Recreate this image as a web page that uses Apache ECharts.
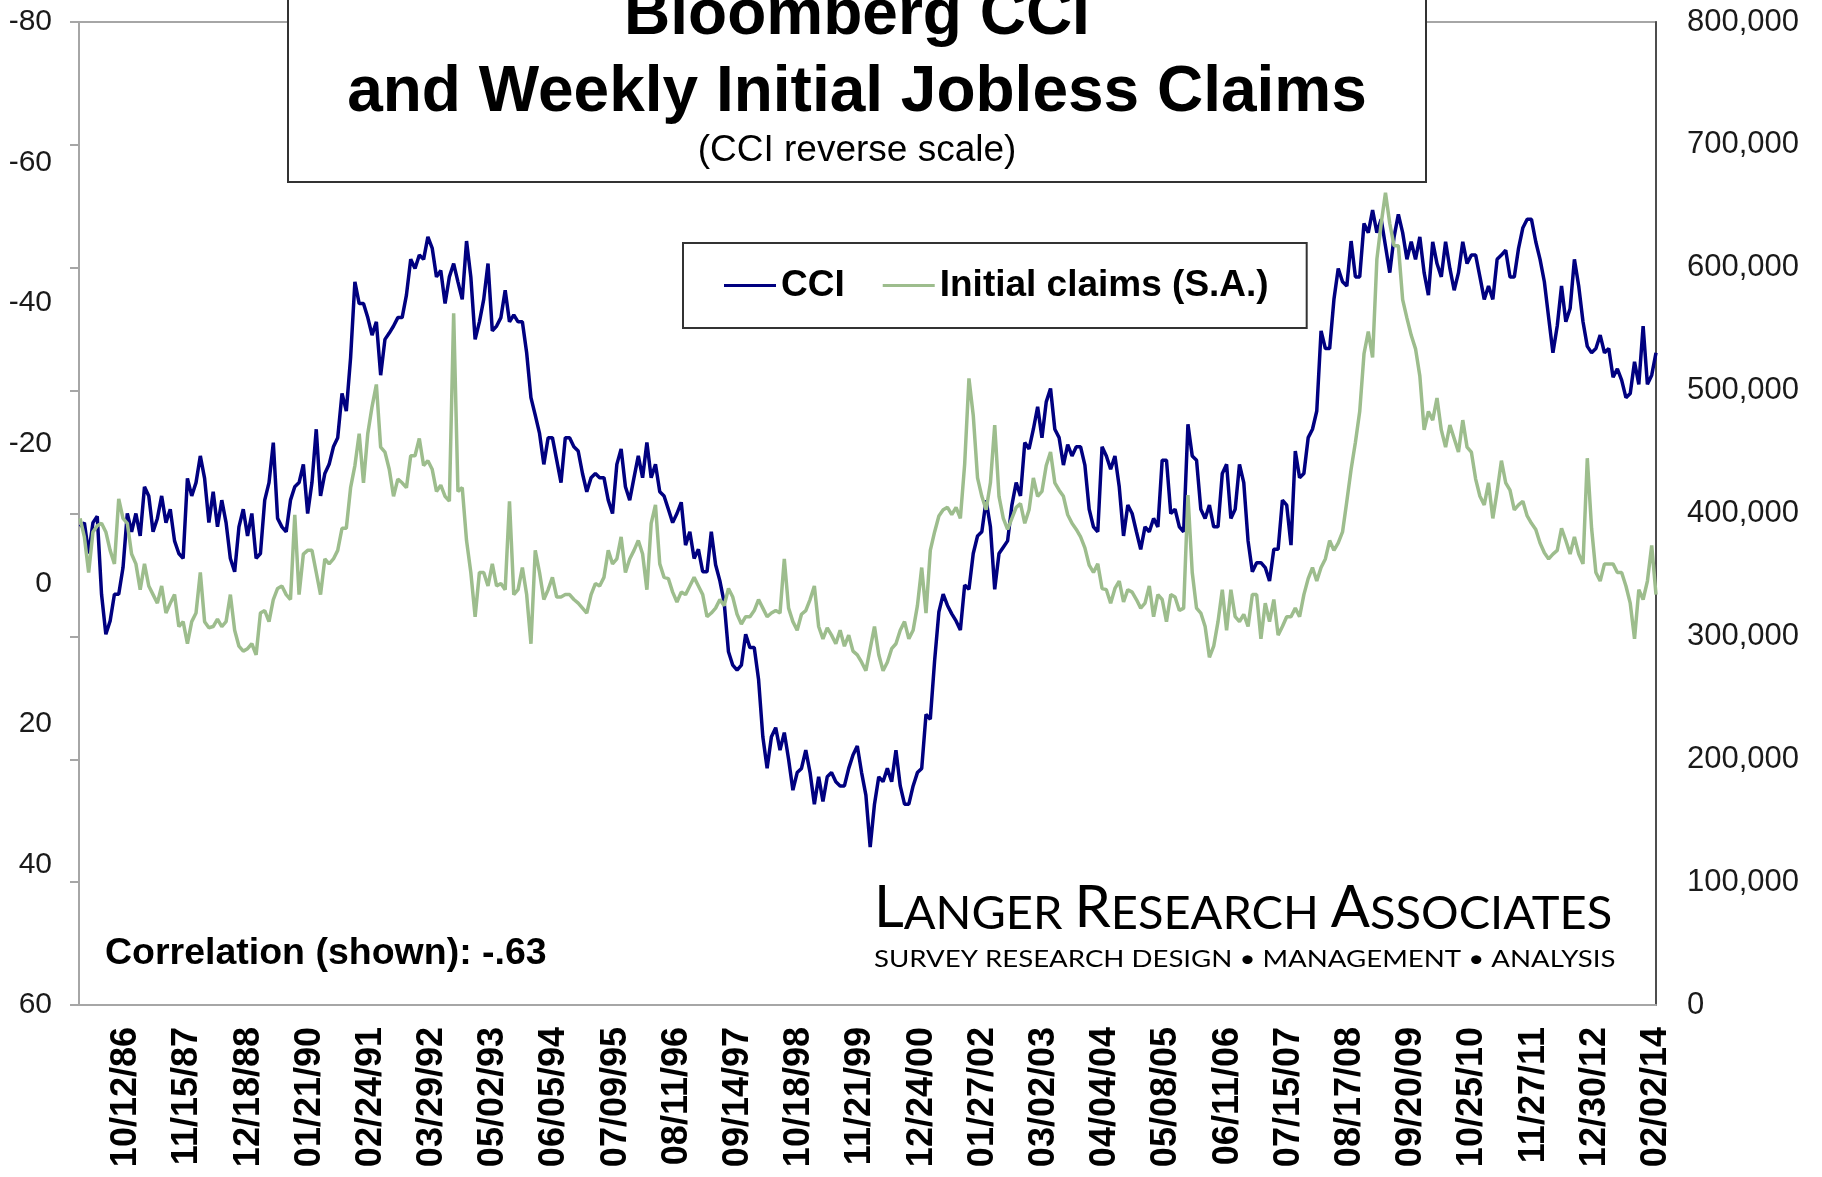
<!DOCTYPE html>
<html>
<head>
<meta charset="utf-8">
<script src="https://cdn.jsdelivr.net/npm/echarts@6/dist/echarts.min.js"></script>
<style>
html,body{margin:0;padding:0;background:#fff;}
#chart{width:1822px;height:1177px;}
</style>
</head>
<body>
<div id="chart"></div>
<script>
// X-axis tick labels (one every 57 weeks, first at week 44 after 12/08/85)
const tickLabels = ['10/12/86','11/15/87','12/18/88','01/21/90','02/24/91','03/29/92','05/02/93','06/05/94','07/09/95','08/11/96','09/14/97','10/18/98','11/21/99','12/24/00','01/27/02','03/02/03','04/04/04','05/08/05','06/11/06','07/15/07','08/17/08','09/20/09','10/25/10','11/27/11','12/30/12','02/02/14'];
const firstLabelWeek = 44;
const labelStepWeeks = 57;
const lastWeek = 1469;
// Readings are taken every 4 weeks, starting at week 1 (12/15/85)
const firstSampleWeek = 1;
const sampleStepWeeks = 4;

// Bloomberg CCI readings (reverse scale)
const cci1985_1990 = [-8.1,-8.7,-4.3,-8.7,-9.6,1.5,7.2,5.3,1.5,1.5,
-2.3,-10,-7.4,-10,-6.8,-13.8,-12.5,-7.4,-9.3,-12.5,
-8.7,-10.6,-6.1,-4.3,-3.6,-15,-12.5,-14.4,-18.2,-15,
-8.7,-13.1,-8.1,-11.9,-8.7,-3.6,-1.7,-8.1,-10.6,-6.8,
-10,-3.6,-4.3,-11.9,-14.4,-20.1,-9.3,-8.1,-7.4,-11.9,
-13.8,-14.4,-17,-10,-14.4,-22,-12.5,-15.7,-17,-19.5,
-20.8,-27.1];
const cci1990_1995 = [-24.6,-32.2,-43.0,-39.9,-39.9,-37.9,-35.4,-37.3,-29.7,-34.8,
-35.7,-36.7,-37.9,-37.9,-41.1,-46.2,-44.9,-46.8,-46.2,-49.4,
-47.8,-43.7,-44.6,-39.9,-43.7,-45.6,-43.0,-40.5,-48.8,-43.7,
-34.8,-37.3,-40.5,-45.6,-36.0,-36.7,-37.9,-41.8,-37.3,-38.3,
-37.3,-37.3,-32.9,-26.5,-24.0,-21.4,-17.0,-20.8,-20.8,-17.6,
-14.4,-20.8,-20.8,-19.5,-18.9,-15.7,-13.1,-15.1,-15.7,-15.1,
-15.1,-11.9];
const cci1995_2000 = [-10.0,-17.0,-19.2,-13.8,-11.9,-15.1,-18.2,-15.1,-20.1,-15.1,
-17.0,-13.1,-12.5,-10.6,-8.7,-10.0,-11.6,-5.5,-7.4,-3.6,
-4.9,-1.7,-1.7,-7.4,-2.7,-0.4,2.7,9.7,11.6,12.3,
11.6,7.2,9.1,9.1,13.6,21.8,26.3,21.8,20.5,23.7,
21.2,25.0,29.4,26.9,26.3,23.7,26.9,31.4,27.5,31.0,
27.5,26.9,28.2,28.8,28.8,26.3,24.4,23.1,26.9,30.1,
37.5,31.4];
const cci2000_2004 = [27.5,28.2,26.3,28.2,23.7,28.8,31.4,31.4,28.8,26.9,
26.3,18.6,19.3,11.0,4.0,1.5,3.1,4.3,5.3,6.6,
0.2,0.8,-4.3,-6.8,-7.4,-11.9,-8.1,0.8,-4.3,-5.2,
-6.1,-11.2,-14.4,-12.5,-20.1,-19.2,-22.0,-25.2,-20.8,-25.9,
-27.8,-22.0,-20.8,-16.9,-19.8,-18.2,-19.5,-19.5,-16.9,-10.6,
-8.1,-7.4,-19.5,-18.2,-16.3,-18.2,-13.8,-6.8,-11.2,-10.0,
-7.4,-4.9];
const cci2004_2009 = [-8.1,-7.4,-9.3,-8.1,-17.6,-17.6,-10.0,-10.6,-8.1,-7.4,
-22.7,-18.2,-17.6,-10.6,-9.3,-11.2,-8.1,-8.1,-15.7,-17.0,
-9.3,-10.6,-17.0,-14.4,-6.1,-1.7,-3.0,-3.0,-2.3,-0.4,
-4.9,-4.9,-11.9,-11.2,-5.5,-18.9,-15.1,-15.7,-20.8,-22.0,
-24.6,-36.0,-33.5,-33.5,-40.5,-44.9,-43.0,-42.4,-48.8,-43.7,
-43.7,-51.3,-50.0,-53.2,-50.0,-51.9,-48.1,-44.3,-49.4,-52.6,
-50.0];
const cci2009_2014 = [-46.2,-48.7,-46.2,-49.4,-44.3,-41.1,-48.7,-45.6,-43.7,-48.7,
-44.9,-41.8,-44.3,-48.7,-45.6,-46.8,-46.8,-43.7,-40.5,-42.4,
-40.5,-46.2,-46.8,-47.5,-43.7,-43.7,-47.8,-50.7,-51.9,-51.9,
-48.7,-46.2,-43.0,-37.9,-32.9,-36.7,-42.4,-37.3,-39.2,-46.2,
-42.4,-37.3,-33.8,-32.9,-33.5,-35.4,-32.9,-33.5,-29.4,-30.6,
-29.0,-26.5,-27.1,-31.6,-28.4,-36.7,-28.4,-29.7,-32.9];

// Initial jobless claims, seasonally adjusted (thousands)
const claims1985_1990 = [396,381,352,385,390,392,385,370,359,412,
396,392,367,359,338,359,341,334,327,341,
319,327,334,308,312,294,312,319,352,312,
307,308,314,308,312,334,305,292,288,290,
294,285,319,321,312,330,339,341,334,330,
399,334,367,370,370,352,334,363,359,363,
370,388];
const claims1990_1995 = [388,421,439,465,425,465,487,505,454,450,
436,414,428,425,421,447,447,461,439,443,
436,418,423,414,410,563,418,421,378,352,
316,352,352,341,359,341,343,338,410,334,
338,356,334,294,370,352,330,338,348,332,
332,334,334,330,327,323,319,334,343,341,
348,370];
const claims1995_2000 = [359,363,381,352,363,370,378,367,338,392,
407,359,348,347,336,328,336,334,341,348,
341,334,316,319,323,330,325,339,332,318,
310,316,316,321,330,323,316,319,321,319,
363,323,312,305,318,321,330,341,308,298,
307,301,294,305,292,301,288,285,279,272,
290,308];
const claims2000_2004 = [285,272,279,290,294,305,312,298,305,325,
356,319,370,385,398,403,405,399,405,396,
440,510,480,429,414,403,425,472,414,396,
387,396,405,408,392,403,429,414,418,439,
450,425,419,414,399,392,387,381,372,358,
352,359,339,338,327,339,345,328,338,336,
330,323];
const claims2004_2009 = [327,341,316,334,330,312,334,332,321,323,
415,352,323,319,308,283,292,312,338,305,
338,316,312,318,308,334,334,298,327,312,
330,301,308,316,316,323,316,334,347,356,
345,356,363,378,370,376,385,410,436,458,
483,530,548,527,607,636,661,636,618,618,
574];
const claims2009_2014 = [559,545,534,512,468,483,476,494,468,454,
472,461,450,476,454,450,428,414,407,425,
396,418,443,425,419,403,407,410,398,392,
387,376,368,363,367,370,388,378,367,381,
367,359,445,388,352,345,359,359,359,352,
352,341,327,298,338,330,345,374,334];

const cciValues = [].concat(cci1985_1990, cci1990_1995, cci1995_2000, cci2000_2004, cci2004_2009, cci2009_2014);
const claimsValues = [].concat(claims1985_1990, claims1990_1995, claims1995_2000, claims2000_2004, claims2004_2009, claims2009_2014);
const toPoints = vals => vals.map((v, i) => [firstSampleWeek + i * sampleStepWeeks, v]);
const labelWeeks = tickLabels.map((_, i) => firstLabelWeek + i * labelStepWeeks);

const FONT = '"Liberation Sans", Arial, sans-serif';
const chart = echarts.init(document.getElementById('chart'), null, {renderer: 'canvas'});
chart.setOption({
  animation: false,
  backgroundColor: '#ffffff',
  grid: {left: 79, right: 166, top: 22, bottom: 172, show: true, borderColor: '#a6a6a6', borderWidth: 2, backgroundColor: 'transparent'},
  legend: {
    left: 683, top: 243,
    data: ['CCI', 'Initial claims (S.A.)'],
    icon: 'rect', itemWidth: 52, itemHeight: 3, itemGap: 38,
    padding: [24, 38, 24, 41],
    borderColor: '#333', borderWidth: 2, backgroundColor: '#fff',
    textStyle: {fontFamily: FONT, fontSize: 37, fontWeight: 'bold', color: '#000'}
  },
  xAxis: {
    type: 'value', min: 0, max: lastWeek,
    axisLine: {show: true, onZero: false, lineStyle: {color: '#a6a6a6', width: 2}},
    axisTick: {show: false},
    splitLine: {show: false},
    axisLabel: {
      customValues: labelWeeks,
      rotate: 90, margin: 22,
      fontFamily: FONT, fontSize: 36, fontWeight: 'bold', color: '#000',
      formatter: v => tickLabels[Math.round((v - firstLabelWeek) / labelStepWeeks)] || ''
    }
  },
  yAxis: [
    {
      type: 'value', inverse: true, min: -80, max: 60, interval: 20, position: 'left',
      axisLine: {show: false, onZero: false}, axisTick: {show: false}, splitLine: {show: false},
      axisLabel: {fontFamily: FONT, fontSize: 30, color: '#1a1a1a', margin: 27}
    },
    {
      type: 'value', min: 0, max: 800, interval: 100, position: 'right',
      axisLine: {show: true, onZero: false, lineStyle: {color: '#4d4d4d', width: 2}},
      axisTick: {show: false}, splitLine: {show: false},
      axisLabel: {fontFamily: FONT, fontSize: 31, color: '#1a1a1a', margin: 31,
        formatter: v => v === 0 ? '0' : v + ',000'}
    },
    {
      type: 'value', min: 0, max: 8, interval: 1, position: 'left',
      axisLine: {show: true, onZero: false, lineStyle: {color: '#a6a6a6', width: 2}},
      axisTick: {show: true, length: 9, lineStyle: {color: '#a6a6a6', width: 2}},
      axisLabel: {show: false}, splitLine: {show: false}
    }
  ],
  series: [
    {
      name: 'CCI', type: 'line', yAxisIndex: 0, data: toPoints(cciValues),
      symbol: 'none', lineStyle: {color: '#000080', width: 3.5}, itemStyle: {color: '#000080'}
    },
    {
      name: 'Initial claims (S.A.)', type: 'line', yAxisIndex: 1, data: toPoints(claimsValues),
      symbol: 'none', lineStyle: {color: '#9dbd8d', width: 3.5}, itemStyle: {color: '#9dbd8d'}
    }
  ],
  graphic: [
    {type: 'rect', z: 100, shape: {x: 288, y: -10, width: 1138, height: 192},
      style: {fill: '#fff', stroke: '#333', lineWidth: 2}},
    {type: 'text', z: 101, x: 857, y: 16,
      style: {text: 'Bloomberg CCI', font: 'bold 64px ' + FONT, fill: '#000', align: 'center', verticalAlign: 'middle'}},
    {type: 'text', z: 101, x: 857, y: 93,
      style: {text: 'and Weekly Initial Jobless Claims', font: 'bold 64px ' + FONT, fill: '#000', align: 'center', verticalAlign: 'middle'}},
    {type: 'text', z: 101, x: 857, y: 151,
      style: {text: '(CCI reverse scale)', font: '37px ' + FONT, fill: '#000', align: 'center', verticalAlign: 'middle'}},
    {type: 'text', z: 101, x: 105, y: 954,
      style: {text: 'Correlation (shown): -.63', font: 'bold 37.5px ' + FONT, fill: '#000', align: 'left', verticalAlign: 'middle'}},
    {type: 'text', z: 101, x: 874, y: 937,
      style: {
        text: '{b|L}{s|ANGER }{b|R}{s|ESEARCH }{b|A}{s|SSOCIATES}',
        fill: '#000', align: 'left', verticalAlign: 'bottom',
        rich: {
          b: {fontFamily: 'Lato', fontSize: 58, verticalAlign: 'bottom', lineHeight: 60},
          s: {fontFamily: 'Lato', fontSize: 47, verticalAlign: 'bottom', lineHeight: 58}
        }
      }},
    {type: 'text', z: 101, x: 874, y: 959, scaleX: 1.15, originX: 0, originY: 0,
      style: {text: 'SURVEY RESEARCH DESIGN \u2022 MANAGEMENT \u2022 ANALYSIS', font: '24px Lato', fill: '#000', align: 'left', verticalAlign: 'middle'}}
  ]
});
</script>
</body>
</html>
